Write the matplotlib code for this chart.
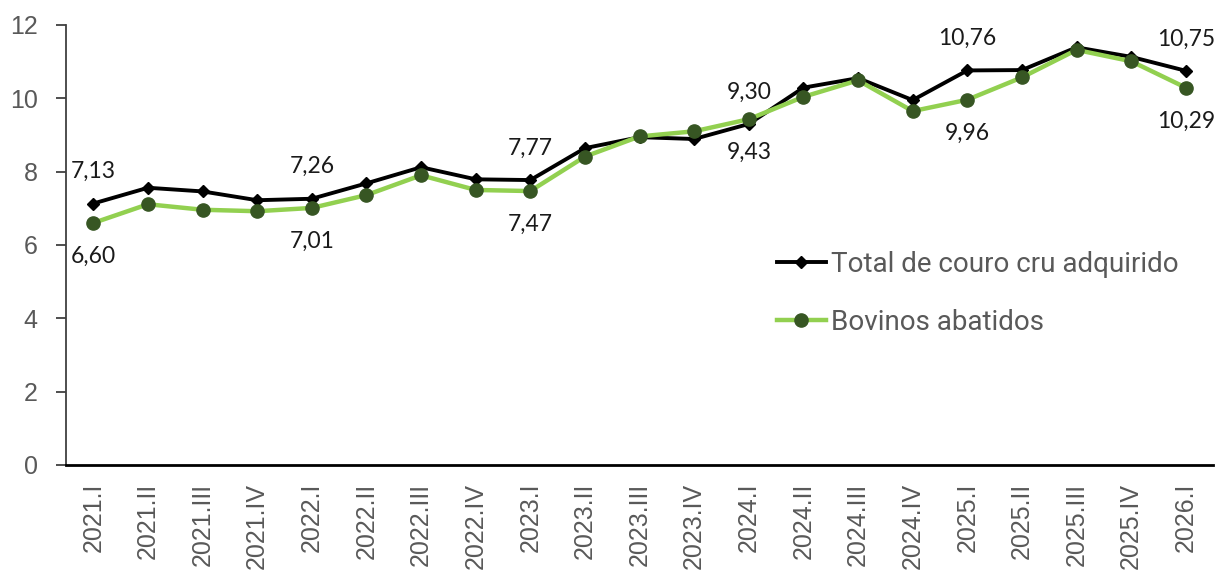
import matplotlib.pyplot as plt

trimestres = ["2021.I", "2021.II", "2021.III", "2021.IV",
              "2022.I", "2022.II", "2022.III", "2022.IV",
              "2023.I", "2023.II", "2023.III", "2023.IV",
              "2024.I", "2024.II", "2024.III", "2024.IV",
              "2025.I", "2025.II", "2025.III", "2025.IV",
              "2026.I"]

couro_total = [7.13, 7.56, 7.46, 7.22,
               7.26, 7.68, 8.12, 7.79,
               7.77, 8.64, 8.94, 8.89,
               9.30, 10.29, 10.55, 9.95,
               10.76, 10.77, 11.39, 11.13,
               10.75]

bovinos = [6.60, 7.11, 6.96, 6.92,
           7.01, 7.36, 7.90, 7.50,
           7.47, 8.41, 8.96, 9.10,
           9.43, 10.04, 10.49, 9.65,
           9.96, 10.57, 11.32, 11.01,
           10.29]

# rótulos só no primeiro trimestre de cada ano
idx_rotulos = [0, 4, 8, 12, 16, 20]

cinza = "#595959"
x = list(range(len(trimestres)))

fig = plt.figure(figsize=(12.18, 5.74), dpi=100)
ax = fig.add_axes([0.0542, 0.19, 0.9418, 0.7665])

ax.plot(x, couro_total, color="black", lw=2.8, marker="D", ms=6,
        label="Total de couro cru adquirido", zorder=3)
ax.plot(x, bovinos, color="#92D050", lw=3.2, marker="o", ms=9.5,
        mfc="#375623", mec="#375623", label="Bovinos abatidos", zorder=4)

for i in idx_rotulos:
    ax.annotate(f"{couro_total[i]:.2f}".replace(".", ","), (x[i], couro_total[i]),
                xytext=(0, 23), textcoords="offset points", ha="center", va="center",
                fontsize=16.5, family="Lato", color="#1a1a1a")
    ax.annotate(f"{bovinos[i]:.2f}".replace(".", ","), (x[i], bovinos[i]),
                xytext=(0, -24), textcoords="offset points", ha="center", va="center",
                fontsize=16.5, family="Lato", color="#1a1a1a")

ax.set_xlim(-0.5, len(trimestres) - 0.5)
ax.set_ylim(0, 12)
ax.set_yticks(range(0, 13, 2))
ax.set_xticks(x)
ax.set_xticklabels(trimestres, rotation=90, fontsize=18, family="Liberation Sans", color=cinza)
for lbl in ax.get_yticklabels():
    lbl.set_fontsize(18)
    lbl.set_family("Liberation Sans")
    lbl.set_color(cinza)

ax.tick_params(axis="x", length=0, pad=13)
ax.tick_params(axis="y", length=7.5, width=1.3, color="#404040", pad=13)

ax.spines["top"].set_visible(False)
ax.spines["right"].set_visible(False)
ax.spines["left"].set_color("#404040")
ax.spines["left"].set_linewidth(1.3)
ax.spines["bottom"].set_color("black")
ax.spines["bottom"].set_linewidth(2)

leg = ax.legend(loc="upper left", bbox_to_anchor=(777 / 1218, 1 - 251 / 574),
                bbox_transform=fig.transFigure, frameon=False, borderpad=0,
                borderaxespad=0, handlelength=1.75, handletextpad=0.18,
                labelspacing=1.12, prop={"family": "Roboto", "size": 20})
for t in leg.get_texts():
    t.set_color(cinza)

plt.savefig("out.png")
plt.close()
